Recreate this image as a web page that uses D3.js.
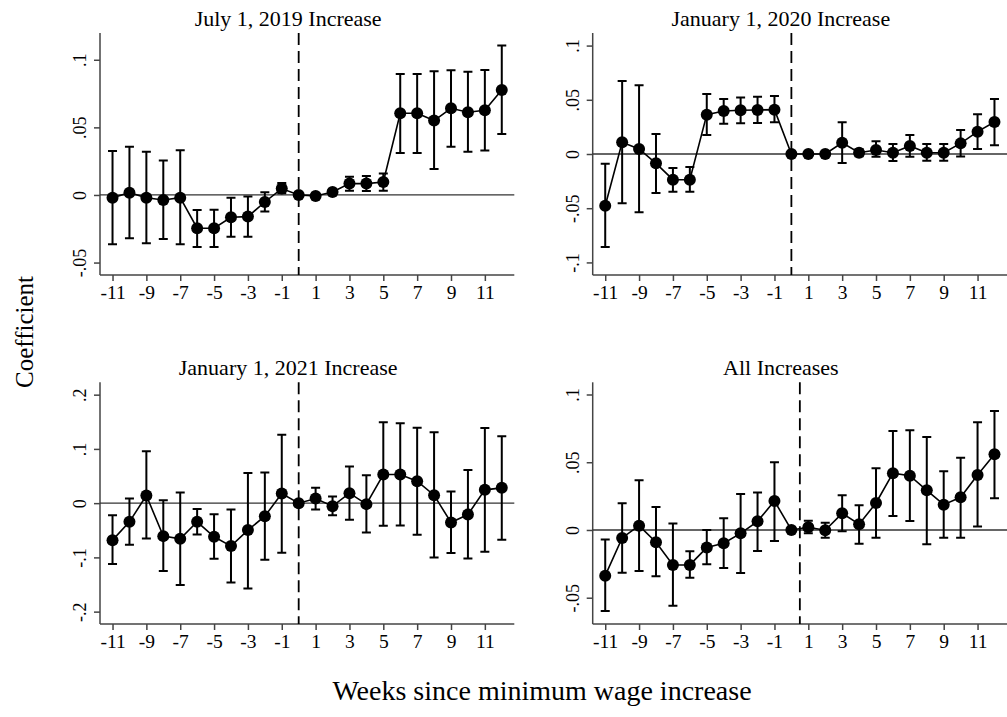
<!DOCTYPE html>
<html>
<head>
<meta charset="utf-8">
<script src="https://cdn.jsdelivr.net/npm/d3@7"></script>
<style>
  html, body { margin: 0; padding: 0; background: #fff; }
  svg { display: block; }
  text { font-family: "Liberation Serif", "DejaVu Serif", serif; fill: #000; }
</style>
</head>
<body>
<svg id="chart" width="1007" height="717"></svg>
<script>
// ---------------- data ----------------
const weeks = [-11,-10,-9,-8,-7,-6,-5,-4,-3,-2,-1,0,1,2,3,4,5,6,7,8,9,10,11,12];
const xTickValues = [-11,-9,-7,-5,-3,-1,1,3,5,7,9,11];
const xTickLabels = ["-11","-9","-7","-5","-3","-1","1","3","5","7","9","11"];

const titles = ["July 1, 2019 Increase", "January 1, 2020 Increase", "January 1, 2021 Increase", "All Increases"];
const eventWeek = [0, 0, 0, 0.5];

const yTicks1 = [-0.05, 0, 0.05, 0.1];
const yTickLabels1 = ["-.05", "0", ".05", ".1"];
const yTicks2 = [-0.1, -0.05, 0, 0.05, 0.1];
const yTickLabels2 = ["-.1", "-.05", "0", ".05", ".1"];
const yTicks3 = [-0.2, -0.1, 0, 0.1, 0.2];
const yTickLabels3 = ["-.2", "-.1", "0", ".1", ".2"];
const yTicks4 = [-0.05, 0, 0.05, 0.1];
const yTickLabels4 = ["-.05", "0", ".05", ".1"];

const coef1 = [-0.002, 0.0017, -0.002, -0.0037, -0.002, -0.0246, -0.0246, -0.0165, -0.016, -0.0052, 0.0047, 0, -0.0007, 0.0022, 0.0084, 0.0084, 0.0096, 0.0604, 0.0604, 0.055, 0.0641, 0.0612, 0.0626, 0.0777];
const lo1   = [-0.0365, -0.032, -0.0357, -0.0325, -0.0365, -0.0385, -0.0385, -0.031, -0.031, -0.0123, 0.0013, 0, -0.0025, 0.0005, 0.0032, 0.003, 0.0032, 0.031, 0.031, 0.0192, 0.0357, 0.032, 0.0328, 0.0451];
const hi1   = [0.0325, 0.0357, 0.032, 0.0254, 0.033, -0.0111, -0.011, -0.002, -0.0012, 0.002, 0.0089, 0, 0.001, 0.004, 0.0135, 0.014, 0.0158, 0.0895, 0.0895, 0.0915, 0.0922, 0.0912, 0.0925, 0.1105];

const coef2 = [-0.0477, 0.0108, 0.0046, -0.0086, -0.0237, -0.0237, 0.0363, 0.0397, 0.0403, 0.0406, 0.0409, 0, 0, 0, 0.0104, 0.0012, 0.0037, 0.0012, 0.0074, 0.0012, 0.0012, 0.0098, 0.0206, 0.0295];
const lo2   = [-0.0858, -0.0455, -0.0538, -0.036, -0.0348, -0.0348, 0.0175, 0.028, 0.0283, 0.0286, 0.0292, 0, 0, 0, -0.0083, -0.002, -0.0025, -0.0065, -0.0025, -0.0062, -0.0062, -0.0022, 0.0046, 0.008];
const hi2   = [-0.0089, 0.0673, 0.0634, 0.0185, -0.0129, -0.012, 0.0554, 0.0507, 0.052, 0.0529, 0.0535, 0, 0, 0, 0.0292, 0.0044, 0.0117, 0.0092, 0.0175, 0.0092, 0.0092, 0.0221, 0.0366, 0.0507];

const coef3 = [-0.0682, -0.0344, 0.014, -0.0608, -0.0657, -0.0344, -0.062, -0.0792, -0.0497, -0.024, 0.0177, 0, 0.0085, -0.0055, 0.0184, -0.0018, 0.0528, 0.0528, 0.0405, 0.0147, -0.0357, -0.021, 0.0245, 0.0282];
const lo3   = [-0.1123, -0.0768, -0.0651, -0.1252, -0.151, -0.0578, -0.1026, -0.1462, -0.1572, -0.1044, -0.0915, 0, -0.0117, -0.0221, -0.0307, -0.0541, -0.0418, -0.0412, -0.0584, -0.1001, -0.0921, -0.102, -0.0897, -0.0676];
const hi3   = [-0.0221, 0.0085, 0.0958, 0.0055, 0.0196, -0.011, -0.0203, -0.0117, 0.0558, 0.0564, 0.1263, 0, 0.0282, 0.0122, 0.0675, 0.0515, 0.1491, 0.1473, 0.1392, 0.1308, 0.0214, 0.0613, 0.1387, 0.1234];

const coef4 = [-0.0337, -0.0059, 0.0032, -0.0091, -0.0258, -0.0258, -0.013, -0.0098, -0.0025, 0.0064, 0.0214, 0, 0.002, -0.0002, 0.0123, 0.0042, 0.0199, 0.0419, 0.0401, 0.0293, 0.0187, 0.0241, 0.0406, 0.0559];
const lo4   = [-0.0598, -0.0315, -0.0303, -0.0342, -0.0559, -0.0352, -0.0253, -0.0281, -0.0318, -0.0155, -0.0081, 0, -0.0025, -0.0057, -0.001, -0.0101, -0.0057, 0.0103, 0.0066, -0.0106, -0.0057, -0.0057, 0.0025, 0.0234];
const hi4   = [-0.0071, 0.0197, 0.0367, 0.017, 0.0047, -0.0157, 0, 0.0086, 0.0266, 0.0276, 0.05, 0, 0.0069, 0.0054, 0.0256, 0.0182, 0.0456, 0.0731, 0.0736, 0.0687, 0.0433, 0.0534, 0.0795, 0.0879];

const xTitle = "Weeks since minimum wage increase";
const yTitle = "Coefficient";

// ---------------- layout ----------------
const panels = [
  { title: titles[0], coef: coef1, lo: lo1, hi: hi1, ticks: yTicks1, tickLabels: yTickLabels1, yDomain: [-0.0592, 0.1198], ev: eventWeek[0], left: 100,   right: 514.3, top: 33,    bottom: 275 },
  { title: titles[1], coef: coef2, lo: lo2, hi: hi2, ticks: yTicks2, tickLabels: yTickLabels2, yDomain: [-0.1116, 0.1116], ev: eventWeek[1], left: 592.7, right: 1007,  top: 33,    bottom: 275 },
  { title: titles[2], coef: coef3, lo: lo3, hi: hi3, ticks: yTicks3, tickLabels: yTickLabels3, yDomain: [-0.2228, 0.2228], ev: eventWeek[2], left: 100,   right: 514.3, top: 382.3, bottom: 624 },
  { title: titles[3], coef: coef4, lo: lo4, hi: hi4, ticks: yTicks4, tickLabels: yTickLabels4, yDomain: [-0.0694, 0.109],  ev: eventWeek[3], left: 592.7, right: 1007,  top: 382.3, bottom: 624 }
];
const xDomain = [-11.74, 12.74];

const svg = d3.select("#chart");
const axisColor = "#444";

panels.forEach(p => {
  const x = d3.scaleLinear().domain(xDomain).range([p.left, p.right]);
  const y = d3.scaleLinear().domain(p.yDomain).range([p.bottom, p.top]);
  const g = svg.append("g");

  // title
  g.append("text")
    .attr("x", (p.left - 38 + p.right) / 2)
    .attr("y", p.top - 7)
    .attr("text-anchor", "middle")
    .attr("font-size", 22)
    .text(p.title);

  // y axis
  const yAxis = d3.axisLeft(y).tickValues(p.ticks)
    .tickFormat((d, i) => p.tickLabels[i]).tickSize(6).tickSizeOuter(0);
  const ya = g.append("g").attr("transform", `translate(${p.left},0)`).call(yAxis);
  ya.attr("font-family", null).attr("font-size", null);
  ya.select(".domain").attr("stroke", axisColor).attr("stroke-width", 1.5)
    .attr("d", `M0,${p.top}V${p.bottom}`);
  ya.selectAll(".tick line").attr("stroke", axisColor).attr("stroke-width", 1.5);
  ya.selectAll(".tick text")
    .attr("font-size", 18)
    .attr("fill", "#000")
    .attr("x", null).attr("dy", null)
    .attr("text-anchor", "middle")
    .attr("transform", "translate(-14,0) rotate(-90)");

  // x axis
  const xAxis = d3.axisBottom(x).tickValues(xTickValues)
    .tickFormat((d, i) => xTickLabels[i]).tickSize(6).tickSizeOuter(0);
  const xa = g.append("g").attr("transform", `translate(0,${p.bottom})`).call(xAxis);
  xa.attr("font-family", null).attr("font-size", null);
  xa.select(".domain").attr("stroke", axisColor).attr("stroke-width", 1.5)
    .attr("d", `M${p.left},0H${p.right}`);
  xa.selectAll(".tick line").attr("stroke", axisColor).attr("stroke-width", 1.5);
  xa.selectAll(".tick text")
    .attr("font-size", 19.5)
    .attr("fill", "#000")
    .attr("y", 10).attr("dy", "0.71em");

  // zero reference line
  g.append("line")
    .attr("x1", p.left).attr("x2", p.right)
    .attr("y1", y(0)).attr("y2", y(0))
    .attr("stroke", "#333").attr("stroke-width", 1.3);

  // event line (dashed)
  g.append("line")
    .attr("x1", x(p.ev)).attr("x2", x(p.ev))
    .attr("y1", p.top).attr("y2", p.bottom)
    .attr("stroke", "#000").attr("stroke-width", 1.8)
    .attr("stroke-dasharray", "12,6");

  const pts = weeks.map((w, i) => ({ w, c: p.coef[i], lo: p.lo[i], hi: p.hi[i] }));

  // error bars
  const cap = 4.5;
  const eb = g.append("g").attr("stroke", "#000").attr("stroke-width", 2).attr("fill", "none");
  pts.forEach(d => {
    if (d.lo === d.hi) return;
    eb.append("path").attr("d",
      `M${x(d.w)},${y(d.lo)}V${y(d.hi)}` +
      `M${x(d.w) - cap},${y(d.lo)}H${x(d.w) + cap}` +
      `M${x(d.w) - cap},${y(d.hi)}H${x(d.w) + cap}`);
  });

  // connecting line
  g.append("path").datum(pts)
    .attr("fill", "none").attr("stroke", "#000").attr("stroke-width", 1.6)
    .attr("d", d3.line().x(d => x(d.w)).y(d => y(d.c)));

  // markers
  g.selectAll("circle.m").data(pts).enter().append("circle")
    .attr("class", "m")
    .attr("cx", d => x(d.w)).attr("cy", d => y(d.c)).attr("r", 6)
    .attr("fill", "#000");
});

// global axis titles
svg.append("text")
  .attr("x", 542).attr("y", 700)
  .attr("text-anchor", "middle")
  .attr("font-size", 28)
  .text(xTitle);

svg.append("text")
  .attr("transform", "translate(33,332) rotate(-90)")
  .attr("text-anchor", "middle")
  .attr("font-size", 25)
  .text(yTitle);
</script>
</body>
</html>
